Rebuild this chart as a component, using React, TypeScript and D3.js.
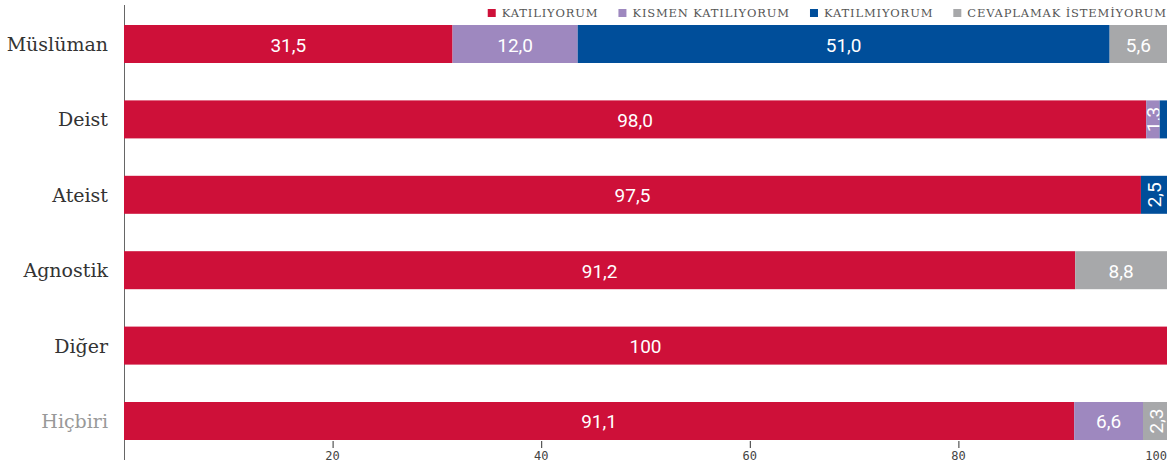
import React, { useEffect, useRef } from "react";
import * as d3 from "d3";

const categories = ["Müslüman", "Deist", "Ateist", "Agnostik", "Diğer", "Hiçbiri"];
const seriesNames = ["KATILIYORUM", "KISMEN KATILIYORUM", "KATILMIYORUM", "CEVAPLAMAK İSTEMİYORUM"];
const katiliyorum = [31.5, 98.0, 97.5, 91.2, 100, 91.1];
const kismen = [12.0, 1.3, 0, 0, 0, 6.6];
const katilmiyorum = [51.0, 0.7, 2.5, 0, 0, 0];
const cevaplamak = [5.6, 0, 0, 8.8, 0, 2.3];
const labels = [
  ["31,5", "12,0", "51,0", "5,6"],
  ["98,0", "1,3", "", ""],
  ["97,5", "", "2,5", ""],
  ["91,2", "", "", "8,8"],
  ["100", "", "", ""],
  ["91,1", "6,6", "", "2,3"],
];
const xTicks = [20, 40, 60, 80, 100];
const colors = ["#CE1039", "#9E88BF", "#004E9A", "#A7A8AA"];

export default function App() {
  const ref = useRef<SVGSVGElement>(null);
  useEffect(() => {
    const svg = d3.select(ref.current);
    svg.selectAll("*").remove();
    const left = 124, right = 1167;
    const x = d3.scaleLinear().domain([0, 100]).range([left, right]);
    const y = d3.scaleBand().domain(categories).range([25, 440]).paddingInner(0.496).paddingOuter(0);
    const series = [katiliyorum, kismen, katilmiyorum, cevaplamak];

    svg.append("line").attr("x1", left + 0.5).attr("x2", left + 0.5).attr("y1", 5).attr("y2", 460)
      .attr("stroke", "#666").attr("stroke-width", 1);

    categories.forEach((c, i) => {
      let acc = 0;
      const y0 = y(c)!;
      const bh = y.bandwidth();
      series.forEach((s, j) => {
        const v = s[i];
        if (v <= 0) return;
        const x0 = x(acc), x1 = x(Math.min(100, acc + v));
        acc += v;
        svg.append("rect").attr("x", x0).attr("y", y0).attr("width", Math.max(0, x1 - x0)).attr("height", bh)
          .attr("fill", colors[j]);
        const lab = labels[i][j];
        if (!lab) return;
        const cx = (x0 + x1) / 2, cy = y0 + bh / 2;
        const narrow = x1 - x0 < 30;
        const t = svg.append("text").text(lab).attr("fill", "#fff")
          .attr("font-family", "Roboto, 'Open Sans', sans-serif").attr("font-size", 19)
          .attr("text-anchor", "middle").attr("dominant-baseline", "central");
        if (narrow) t.attr("transform", `translate(${cx + 1},${cy}) rotate(-90)`);
        else t.attr("x", cx).attr("y", cy + 1);
      });
      svg.append("text").text(c).attr("x", 108).attr("y", y0 + bh / 2)
        .attr("text-anchor", "end").attr("dominant-baseline", "central")
        .attr("font-family", "'DejaVu Serif', serif").attr("font-size", 19)
        .attr("fill", c === "Hiçbiri" ? "#999" : "#333");
    });

    xTicks.forEach((t, k) => {
      const last = k === xTicks.length - 1;
      if (!last) {
        svg.append("line").attr("x1", x(t) + 0.5).attr("x2", x(t) + 0.5).attr("y1", 441).attr("y2", 448)
          .attr("stroke", "#333");
      }
      svg.append("text").text(t).attr("x", last ? x(t) : x(t)).attr("y", 460)
        .attr("text-anchor", last ? "end" : "middle")
        .attr("font-family", "'DejaVu Sans Mono', monospace").attr("font-size", 12).attr("fill", "#444");
    });

    const lg = svg.append("g");
    let cursor = right;
    const texts = seriesNames.map((n) => lg.append("text").text(n).attr("y", 17)
      .attr("font-family", "'DejaVu Serif', serif").attr("font-size", 11.5).attr("letter-spacing", 0.85)
      .attr("fill", "#555"));
    for (let k = seriesNames.length - 1; k >= 0; k--) {
      const w = (texts[k].node() as SVGTextElement).getComputedTextLength();
      const tx = cursor - w;
      texts[k].attr("x", tx);
      lg.append("rect").attr("x", tx - 14).attr("y", 9).attr("width", 8).attr("height", 8).attr("fill", colors[k]);
      cursor = tx - 14 - 20;
    }
  }, []);
  return (
    <svg ref={ref} width={1176} height={467} style={{ position: "absolute", left: 0, top: 0, background: "#fff" }} />
  );
}
